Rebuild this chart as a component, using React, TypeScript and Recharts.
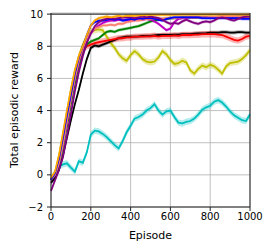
import React from 'react';
import { ComposedChart, Line, Area, XAxis, YAxis, CartesianGrid, ReferenceLine } from 'recharts';

// episode grid shared by every run
const episodes = [
  0, 20, 40, 60, 80, 100, 120, 140, 160, 180,
  200, 220, 240, 260, 280, 300, 320, 340, 360, 380,
  400, 420, 440, 460, 480, 500, 520, 540, 560, 580,
  600, 620, 640, 660, 680, 700, 720, 740, 760, 780,
  800, 820, 840, 860, 880, 900, 920, 940, 960, 980, 1000,
];

const cyanRun = [
  -0.3, 0.15, 0.5, 0.65, 0.72, 0.45, 0.2, 0.85, 0.75, 1.4,
  2.5, 2.75, 2.7, 2.55, 2.35, 2.1, 1.85, 1.65, 2.1, 2.65,
  3.05, 3.5, 3.6, 3.75, 4.0, 4.15, 4.4, 4.0, 3.75, 3.95,
  4.0, 3.6, 3.25, 3.2, 3.3, 3.35, 3.5, 3.75, 4.05, 4.2,
  4.3, 4.55, 4.65, 4.5, 4.25, 3.95, 3.7, 3.55, 3.4, 3.35, 3.75,
];

const yellowRun = [
  -0.2, 0.1, 1.2, 2.5, 3.9, 5.3, 6.5, 7.4, 8.1, 8.6,
  8.9, 9.0, 9.05, 9.0, 8.6, 8.2, 7.9, 7.5, 7.25, 7.1,
  7.45, 7.7, 7.5, 7.2, 7.05, 7.0, 7.05, 7.3, 7.7, 7.5,
  7.15, 6.9, 6.95, 7.1, 7.0, 6.5, 6.3, 6.6, 6.8, 6.7,
  6.85, 6.75, 6.55, 6.3, 6.75, 6.95, 7.0, 7.05, 7.2, 7.45, 7.75,
];

const blackRun = [
  -0.5, -0.2, 0.3, 1.2, 2.3, 3.4, 4.4, 5.3, 6.3, 7.2,
  7.9, 8.05, 8.0, 8.1, 8.2, 8.3, 8.4, 8.5, 8.55, 8.6,
  8.6, 8.6, 8.62, 8.65, 8.65, 8.65, 8.68, 8.7, 8.7, 8.7,
  8.7, 8.72, 8.72, 8.75, 8.75, 8.75, 8.78, 8.8, 8.8, 8.82,
  8.85, 8.85, 8.85, 8.88, 8.88, 8.85, 8.85, 8.88, 8.88, 8.85, 8.85,
];

const redRun = [
  -0.3, 0.0, 0.8, 2.0, 3.4, 4.8, 6.1, 7.1, 7.8, 8.0,
  8.1, 8.2, 8.25, 8.3, 8.35, 8.4, 8.45, 8.5, 8.5, 8.55,
  8.55, 8.6, 8.6, 8.6, 8.62, 8.62, 8.65, 8.6, 8.65, 8.65,
  8.65, 8.68, 8.65, 8.7, 8.7, 8.7, 8.72, 8.72, 8.75, 8.75,
  8.75, 8.75, 8.72, 8.7, 8.6, 8.5, 8.4, 8.35, 8.45, 8.6, 8.65,
];

const greenRun = [
  -0.3, 0.0, 0.6, 1.7, 3.0, 4.4, 5.7, 6.8, 7.6, 8.1,
  8.3, 8.4, 8.5, 8.7, 8.9, 8.95, 8.9, 9.0, 9.05, 9.1,
  9.15, 9.2, 9.25, 9.35, 9.45, 9.55, 9.6, 9.65, 9.7, 9.7,
  9.75, 9.75, 9.75, 9.8, 9.8, 9.8, 9.8, 9.8, 9.8, 9.8,
  9.8, 9.8, 9.8, 9.82, 9.82, 9.82, 9.82, 9.85, 9.85, 9.85, 9.85,
];

const magentaRun = [
  -0.3, 0.0, 0.7, 1.9, 3.3, 4.7, 6.0, 7.0, 7.8, 8.4,
  8.8, 9.1, 9.3, 9.45, 9.55, 9.6, 9.6, 9.65, 9.65, 9.6,
  9.6, 9.65, 9.7, 9.65, 9.7, 9.65, 9.55, 9.4, 9.2, 9.0,
  9.1, 9.5, 9.7, 9.75, 9.75, 9.8, 9.8, 9.8, 9.8, 9.8,
  9.8, 9.8, 9.85, 9.85, 9.85, 9.85, 9.85, 9.85, 9.85, 9.85, 9.85,
];

const salmonRun = [
  -0.3, 0.0, 0.7, 1.9, 3.3, 4.7, 6.0, 7.1, 7.9, 8.5,
  8.9, 9.1, 9.2, 9.3, 9.3, 9.35, 9.3, 9.4, 9.4, 9.5,
  9.55, 9.6, 9.6, 9.65, 9.7, 9.7, 9.7, 9.72, 9.72, 9.75,
  9.75, 9.75, 9.78, 9.78, 9.8, 9.8, 9.8, 9.8, 9.8, 9.8,
  9.82, 9.82, 9.82, 9.85, 9.85, 9.85, 9.85, 9.85, 9.85, 9.85, 9.85,
];

const blueRun = [
  -0.3, 0.1, 1.0, 2.3, 3.7, 5.0, 6.3, 7.3, 8.0, 8.7,
  9.3, 9.5, 9.6, 9.6, 9.65, 9.7, 9.65, 9.7, 9.6, 9.65,
  9.7, 9.65, 9.75, 9.7, 9.75, 9.75, 9.7, 9.65, 9.6, 9.7,
  9.75, 9.8, 9.8, 9.8, 9.8, 9.8, 9.8, 9.8, 9.75, 9.75,
  9.75, 9.75, 9.75, 9.75, 9.75, 9.75, 9.75, 9.75, 9.7, 9.7, 9.7,
];

const purpleRun = [
  -1.0, -0.35, 0.3, 1.1, 2.4, 3.8, 5.2, 6.4, 7.4, 8.2,
  8.8, 9.25, 9.5, 9.65, 9.7, 9.75, 9.7, 9.75, 9.8, 9.8,
  9.8, 9.75, 9.8, 9.85, 9.8, 9.85, 9.8, 9.75, 9.65, 9.5,
  9.4, 9.45, 9.4, 9.55, 9.65, 9.55, 9.45, 9.4, 9.5, 9.55,
  9.5, 9.6, 9.75, 9.8, 9.75, 9.65, 9.6, 9.7, 9.8, 9.85, 9.85,
];

const orangeRun = [
  -0.2, 0.2, 1.2, 2.6, 4.0, 5.3, 6.5, 7.4, 8.0, 8.7,
  9.3, 9.6, 9.75, 9.8, 9.85, 9.8, 9.85, 9.9, 9.85, 9.9,
  9.9, 9.9, 9.92, 9.92, 9.95, 9.95, 9.95, 9.95, 9.95, 9.95,
  9.95, 9.95, 9.95, 9.97, 9.97, 9.97, 9.97, 9.97, 9.97, 9.97,
  9.97, 9.97, 9.97, 9.97, 9.97, 9.97, 9.97, 9.97, 9.97, 9.97, 9.97,
];

// half-width of the shaded band around each run
const cyanSpread = 0.2;
const yellowSpread = 0.2;
const blackSpread = 0.12;
const redSpread = 0.2;
const otherSpread = 0.1;

const xTicks = [0, 200, 400, 600, 800, 1000];
const yTicks = [-2, 0, 2, 4, 6, 8, 10];

const runs = [
  { key: 'cyan', color: '#00bfbf', values: cyanRun, spread: cyanSpread },
  { key: 'yellow', color: '#bfbf00', values: yellowRun, spread: yellowSpread },
  { key: 'black', color: '#000000', values: blackRun, spread: blackSpread },
  { key: 'red', color: '#ff0000', values: redRun, spread: redSpread },
  { key: 'green', color: '#008000', values: greenRun, spread: otherSpread },
  { key: 'magenta', color: '#bf00bf', values: magentaRun, spread: otherSpread },
  { key: 'salmon', color: '#fa8072', values: salmonRun, spread: otherSpread },
  { key: 'blue', color: '#0000ff', values: blueRun, spread: otherSpread },
  { key: 'purple', color: '#800080', values: purpleRun, spread: otherSpread },
  { key: 'orange', color: '#ffa500', values: orangeRun, spread: otherSpread },
];

const rows = episodes.map((ep, i) => {
  const row: any = { ep };
  runs.forEach((r) => {
    row[r.key] = r.values[i];
    row[r.key + 'Band'] = [r.values[i] - r.spread, r.values[i] + r.spread];
  });
  return row;
});

const fmtY = (v: number) => (v < 0 ? '\u2212' + Math.abs(v) : String(v));

export default function App() {
  return (
    <div
      style={{
        position: 'absolute',
        left: 0,
        top: 0,
        width: 274,
        height: 252,
        background: '#fff',
        fontFamily: '"DejaVu Sans", sans-serif',
      }}
    >
      <ComposedChart width={274} height={252} data={rows} margin={{ top: 13, right: 24, bottom: 0, left: 0 }}>
        <CartesianGrid stroke="#b0b0b0" strokeWidth={0.8} />
        <XAxis
          dataKey="ep"
          type="number"
          domain={[0, 1000]}
          ticks={xTicks}
          height={45}
          tickSize={4}
          tickMargin={2}
          tick={{ fill: '#000', fontSize: 10 }}
          axisLine={{ stroke: '#222' }}
          tickLine={{ stroke: '#222' }}
          label={{ value: 'Episode', position: 'insideBottom', offset: 13, fill: '#000', fontSize: 11 }}
        />
        <YAxis
          type="number"
          domain={[-2, 10]}
          ticks={yTicks}
          width={51}
          tickSize={4}
          tickMargin={4}
          tickFormatter={fmtY}
          tick={{ fill: '#000', fontSize: 10 }}
          axisLine={{ stroke: '#222' }}
          tickLine={{ stroke: '#222' }}
          label={{
            value: 'Total episodic reward',
            angle: -90,
            position: 'insideLeft',
            offset: 14,
            style: { textAnchor: 'middle' },
            fill: '#000',
            fontSize: 11,
          }}
        />
        {runs.flatMap((r) => [
          <Area
            key={r.key + '-band'}
            type="linear"
            dataKey={r.key + 'Band'}
            stroke="none"
            fill={r.color}
            fillOpacity={0.3}
            dot={false}
            activeDot={false}
            isAnimationActive={false}
          />,
          <Line
            key={r.key + '-line'}
            type="linear"
            dataKey={r.key}
            stroke={r.color}
            strokeWidth={1.8}
            dot={false}
            activeDot={false}
            isAnimationActive={false}
          />,
        ])}
        <ReferenceLine y={10} stroke="#222" />
        <ReferenceLine x={1000} stroke="#222" />
      </ComposedChart>
    </div>
  );
}
